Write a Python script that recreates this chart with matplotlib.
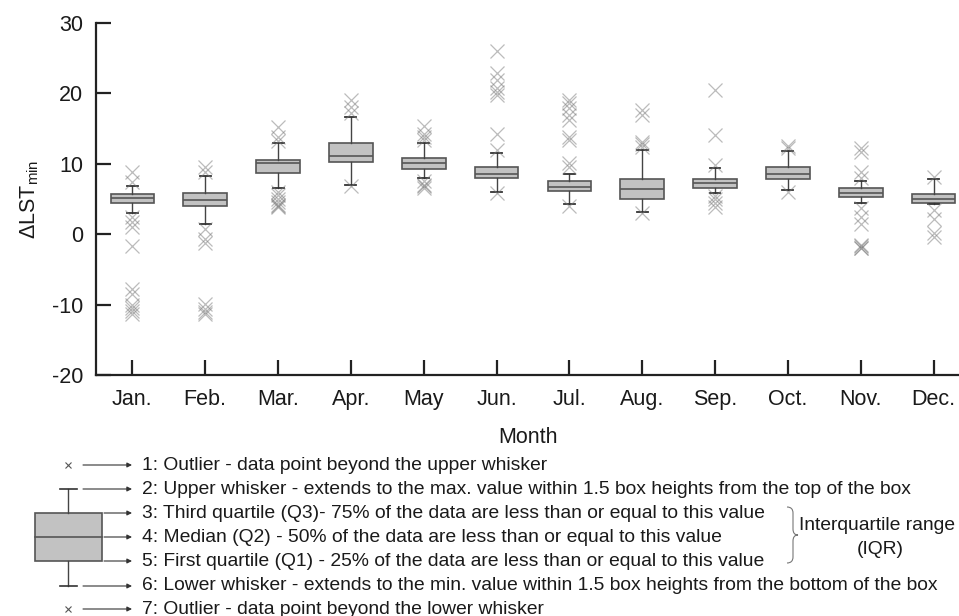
import matplotlib
matplotlib.use('Agg')
import matplotlib.pyplot as plt
from matplotlib.lines import Line2D
from matplotlib.patches import FancyArrowPatch, Rectangle, PathPatch
from matplotlib.path import Path

plt.rcParams['font.family'] = ['Liberation Sans', 'DejaVu Sans']
plt.rcParams['mathtext.fontset'] = 'custom'
plt.rcParams['mathtext.rm'] = 'Liberation Sans'
plt.rcParams['mathtext.it'] = 'Liberation Sans:italic'
plt.rcParams['axes.unicode_minus'] = False

months = ['Jan.', 'Feb.', 'Mar.', 'Apr.', 'May', 'Jun.', 'Jul.', 'Aug.', 'Sep.', 'Oct.', 'Nov.', 'Dec.']
q1 = [4.4, 4.0, 8.7, 10.2, 9.3, 8.0, 6.1, 5.0, 6.5, 7.9, 5.3, 4.4]
med = [5.1, 4.9, 10.1, 11.1, 10.1, 8.6, 6.7, 6.4, 7.3, 8.5, 5.9, 5.0]
q3 = [5.7, 5.8, 10.6, 12.9, 10.8, 9.6, 7.5, 7.8, 7.8, 9.5, 6.5, 5.7]
whislo = [3.0, 1.5, 6.5, 7.0, 8.0, 6.0, 4.3, 3.2, 5.8, 6.3, 4.4, 4.3]
whishi = [6.8, 8.2, 12.9, 16.7, 13.0, 11.5, 8.5, 12.0, 9.4, 11.8, 7.6, 7.8]
outliers = [
    [7.4, 8.8, 2.5, 1.7, 1.0, -1.7, -7.8, -8.5, -10.1, -10.5, -10.9, -11.4],
    [8.9, 9.5, 0.7, -0.7, -1.2, -9.9, -10.6, -11.0, -11.3],
    [13.3, 13.8, 15.2, 6.0, 5.5, 5.0, 4.6, 4.2, 4.0, 3.8],
    [17.2, 18.1, 19.0, 6.8],
    [13.4, 13.8, 14.3, 15.4, 7.5, 7.0, 6.6, 6.8],
    [12.0, 14.2, 19.8, 20.2, 20.7, 21.9, 22.9, 26.0, 5.8],
    [9.6, 10.1, 13.4, 13.8, 16.2, 16.9, 17.9, 18.6, 19.1, 4.0],
    [12.4, 12.8, 13.1, 17.0, 17.6, 3.0],
    [9.8, 14.1, 20.5, 5.4, 5.0, 4.4, 3.9],
    [12.2, 12.5, 6.0],
    [8.0, 8.9, 11.7, 12.2, 3.7, 2.5, 1.5, -1.5, -1.7, -1.9, -2.0],
    [8.1, 3.4, 2.2, 0.1, -0.4],
]

legend_items = [
    '1: Outlier - data point beyond the upper whisker',
    '2: Upper whisker - extends to the max. value within 1.5 box heights from the top of the box',
    '3: Third quartile (Q3)- 75% of the data are less than or equal to this value',
    '4: Median (Q2) - 50% of the data are less than or equal to this value',
    '5: First quartile (Q1) - 25% of the data are less than or equal to this value',
    '6: Lower whisker - extends to the min. value within 1.5 box heights from the bottom of the box',
    '7: Outlier - data point beyond the lower whisker',
]

W, H = 959, 616
BOX_FACE = '#c2c2c2'
EDGE = '#555555'
TXT = '#1a1a1a'
LEG_FS = 13.9

fig = plt.figure(figsize=(W / 100, H / 100), dpi=100)
ax = fig.add_axes([96 / W, 1 - 375 / H, (W - 96) / W, 352 / H])

stats = []
for i in range(len(months)):
    stats.append(dict(med=med[i], q1=q1[i], q3=q3[i], whislo=whislo[i],
                      whishi=whishi[i], fliers=outliers[i]))

ax.bxp(stats, positions=range(len(months)), widths=0.6, patch_artist=True,
       capwidths=0.15,
       boxprops=dict(facecolor=BOX_FACE, edgecolor=EDGE, linewidth=1.2),
       medianprops=dict(color=EDGE, linewidth=1.2),
       whiskerprops=dict(color='#444444', linewidth=1.0),
       capprops=dict(color='#333333', linewidth=1.3),
       flierprops=dict(marker='x', markersize=10.5, markeredgewidth=0.9,
                       markeredgecolor='#7a7a7a', alpha=0.5, linestyle='none'))

ax.set_xlim(-0.5, 11.35)
ax.set_ylim(-20, 30)
ax.set_yticks([-20, -10, 0, 10, 20, 30])
ax.set_xticks(range(len(months)))
ax.set_xticklabels(months)
for s in ['top', 'right']:
    ax.spines[s].set_visible(False)
for s in ['left', 'bottom']:
    ax.spines[s].set_linewidth(1.6)
    ax.spines[s].set_color('#222222')
ax.tick_params(direction='in', length=11, width=1.6, labelsize=15.5, colors='#222222',
               labelcolor=TXT)
ax.tick_params(axis='x', pad=10)
ax.tick_params(axis='y', pad=9)
ax.set_xlabel('Month', fontsize=15.5, color=TXT, labelpad=12)
ax.set_ylabel('ΔLST$_{\\mathrm{min}}$', fontsize=15.5, color=TXT, labelpad=8)


def fp(x, y):
    # pixel (top-left origin) -> figure fraction
    return (x / W, 1 - y / H)


rows = [465, 489, 513, 537, 561, 586, 609]

# legend glyph: box with whiskers
bx0, bx1, cx = 35, 102, 68
fig.add_artist(Rectangle(fp(bx0, rows[4]), (bx1 - bx0) / W, (rows[4] - rows[2]) / H,
                         transform=fig.transFigure, facecolor=BOX_FACE,
                         edgecolor=EDGE, linewidth=1.2))
fig.add_artist(Line2D([bx0 / W, bx1 / W], [fp(0, rows[3])[1]] * 2,
                      transform=fig.transFigure, color=EDGE, linewidth=1.2))
for ya, yb in [(rows[1], rows[2]), (rows[4], rows[5])]:
    fig.add_artist(Line2D([cx / W] * 2, [fp(0, ya)[1], fp(0, yb)[1]],
                          transform=fig.transFigure, color='#444444', linewidth=1.0))
for yc in [rows[1], rows[5]]:
    fig.add_artist(Line2D([60 / W, 77 / W], [fp(0, yc)[1]] * 2,
                          transform=fig.transFigure, color='#333333', linewidth=1.2))
for yo in [rows[0], rows[6]]:
    fig.add_artist(Line2D([cx / W], [fp(0, yo)[1]], transform=fig.transFigure,
                          marker='x', markersize=5, markeredgewidth=0.8,
                          color='#555555', linestyle='none'))

for k, (y, label) in enumerate(zip(rows, legend_items)):
    x_start = bx1 + 2 if k in (2, 3, 4) else 83
    arrow = FancyArrowPatch(fp(x_start, y), fp(132, y), transform=fig.transFigure,
                            arrowstyle='-|>', mutation_scale=7, linewidth=0.8,
                            color='#333333', shrinkA=0, shrinkB=0)
    fig.add_artist(arrow)
    fig.text(142 / W, fp(0, y)[1], label, fontsize=LEG_FS, color=TXT,
             ha='left', va='center')

# curly brace for the IQR
bt, bm, bb = 507, 535, 563
verts = [fp(787, bt), fp(793, bt), fp(793, bt + 6),
         fp(793, bm - 6),
         fp(793, bm), fp(798, bm),
         fp(793, bm), fp(793, bm + 6),
         fp(793, bb - 6),
         fp(793, bb), fp(787, bb)]
codes = [Path.MOVETO, Path.CURVE3, Path.CURVE3,
         Path.LINETO,
         Path.CURVE3, Path.CURVE3,
         Path.CURVE3, Path.CURVE3,
         Path.LINETO,
         Path.CURVE3, Path.CURVE3]
fig.add_artist(PathPatch(Path(verts, codes), transform=fig.transFigure,
                         facecolor='none', edgecolor='#777777', linewidth=0.8))
fig.text(877 / W, fp(0, 525)[1], 'Interquartile range', fontsize=LEG_FS, color=TXT,
         ha='center', va='center')
fig.text(880 / W, fp(0, 549)[1], '(IQR)', fontsize=LEG_FS, color=TXT,
         ha='center', va='center')

fig.savefig('out.png', dpi=100)
